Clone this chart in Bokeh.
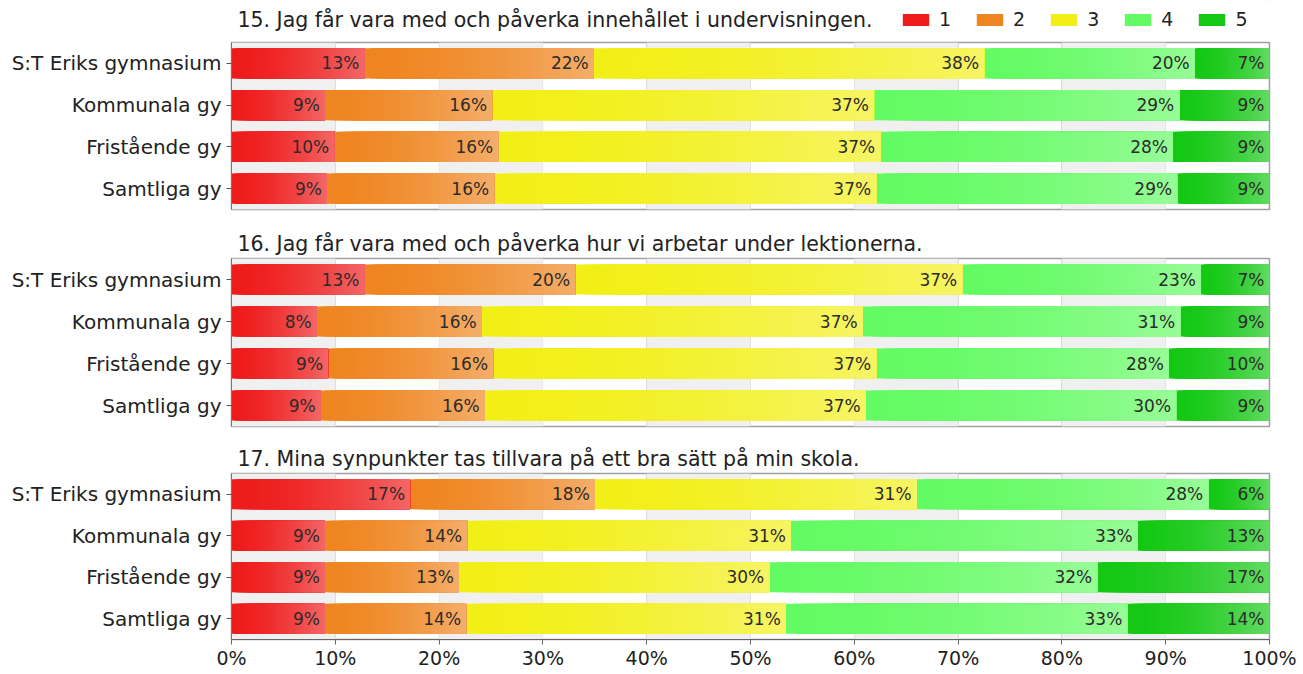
from bokeh.plotting import figure
from bokeh.layouts import column
from bokeh.models import (ColumnDataSource, Legend, LegendItem, FixedTicker,
                          Range1d, FactorRange, Label, BoxAnnotation)
from bokeh.core.properties import value
from bokeh.embed import file_html
from bokeh.resources import INLINE

# ---------------- data ----------------
categories = ["S:T Eriks gymnasium", "Kommunala gy", "Fristående gy", "Samtliga gy"]
answers = ["1", "2", "3", "4", "5"]
colors = ["#ee1b1b", "#ef8520", "#f2ef17", "#63fb63", "#14c814"]
x_ticks = [0, 10, 20, 30, 40, 50, 60, 70, 80, 90, 100]
x_tick_labels = ["0%", "10%", "20%", "30%", "40%", "50%", "60%", "70%", "80%", "90%", "100%"]

q15_title = "15. Jag får vara med och påverka innehållet i undervisningen."
q15_st = [12.8, 22.1, 37.6, 20.3, 7.2]
q15_kom = [9.0, 16.1, 36.8, 29.4, 8.7]
q15_fri = [9.9, 15.8, 36.8, 28.2, 9.3]
q15_sam = [9.2, 16.1, 36.8, 29.0, 8.9]

q16_title = "16. Jag får vara med och påverka hur vi arbetar under lektionerna."
q16_st = [12.8, 20.3, 37.3, 23.0, 6.6]
q16_kom = [8.2, 15.9, 36.7, 30.6, 8.6]
q16_fri = [9.3, 15.9, 36.9, 28.2, 9.7]
q16_sam = [8.6, 15.8, 36.7, 29.9, 9.0]

q17_title = "17. Mina synpunkter tas tillvara på ett bra sätt på min skola."
q17_st = [17.2, 17.8, 31.0, 28.1, 5.9]
q17_kom = [9.0, 13.7, 31.2, 33.4, 12.7]
q17_fri = [9.0, 12.9, 29.9, 31.6, 16.6]
q17_sam = [9.0, 13.6, 30.8, 32.9, 13.7]

FONT = "DejaVu Sans"
TITLE_SIZE = "20.5px"
BAR_H = 0.72
N_SLICES = 40
W = 1302
LEFT = 231
RIGHT = 33


def mix(hexc, t):
    r, g, b = int(hexc[1:3], 16), int(hexc[3:5], 16), int(hexc[5:7], 16)
    return "#%02x%02x%02x" % (round(r + (255 - r) * t), round(g + (255 - g) * t),
                              round(b + (255 - b) * t))


def make_panel(title, rows, top, frame_h, bottom, show_x):
    height = top + frame_h + bottom
    p = figure(width=W, height=height, output_backend="svg", toolbar_location=None,
               y_range=FactorRange(*reversed(categories)), x_range=Range1d(0, 100),
               min_border_left=LEFT, min_border_right=RIGHT, min_border_top=top,
               min_border_bottom=bottom, title=title)
    if p.title is not None:
        p.title.text_font = FONT
        p.title.text_font_size = TITLE_SIZE
        p.title.text_font_style = "normal"
        p.title.text_color = "#222222"
        p.title.align = "left"
        p.title.offset = 6
        p.title.standoff = 6

    p.outline_line_color = "#9f9f9f"
    p.outline_line_width = 1.5
    p.background_fill_color = "white"
    p.border_fill_color = "white"

    # alternating background bands: grey between every other pair of ticks
    for lo, hi in zip(x_ticks[0:-1:2], x_ticks[1::2]):
        p.add_layout(BoxAnnotation(left=lo, right=hi, fill_color="#f0f0f0", fill_alpha=1.0,
                                   line_color="#d9d9d9", line_width=1, level="underlay"))

    p.xgrid.ticker = FixedTicker(ticks=x_ticks)
    p.xgrid.grid_line_color = "#d9d9d9"
    p.ygrid.visible = False

    p.xaxis.ticker = FixedTicker(ticks=x_ticks)
    p.xaxis.major_label_overrides = {t: l for t, l in zip(x_ticks, x_tick_labels)}
    p.xaxis.minor_tick_line_color = None
    p.xaxis.major_tick_in = 0
    p.xaxis.major_tick_out = 5
    p.xaxis.major_label_standoff = 2
    p.xaxis.axis_line_color = "#666666"
    p.xaxis.major_tick_line_color = "#666666"
    p.xaxis.major_label_text_font = FONT
    p.xaxis.major_label_text_font_size = "19px"
    p.xaxis.major_label_text_color = "#222222"
    p.xaxis.visible = show_x

    p.yaxis.major_tick_in = 0
    p.yaxis.major_tick_out = 5
    p.yaxis.major_label_standoff = 5
    p.yaxis.axis_line_color = "#777777"
    p.yaxis.major_tick_line_color = "#555555"
    p.yaxis.major_label_text_font = FONT
    p.yaxis.major_label_text_font_size = "20px"
    p.yaxis.major_label_text_color = "#222222"

    sl_y, sl_l, sl_r, sl_c = [], [], [], []
    lab_x, lab_y, lab_t = [], [], []
    for j, ans in enumerate(answers):
        ys, ls, rs = [], [], []
        for cat, vals in zip(categories, rows):
            left = sum(vals[:j])
            right = left + vals[j]
            ys.append(cat)
            ls.append(left)
            rs.append(right)
            lab_x.append(right)
            lab_y.append(cat)
            lab_t.append("%d%%" % round(vals[j]))
            w = right - left
            for i in range(1, N_SLICES):
                t = 0.34 * (i / N_SLICES) ** 1.6
                sl_y.append(cat)
                sl_l.append(left + w * i / N_SLICES)
                sl_r.append(right)
                sl_c.append(mix(colors[j], t))
        p.hbar(y=ys, left=ls, right=rs, height=BAR_H, fill_color=colors[j],
               line_color=None)

    p.hbar(y="y", left="l", right="r", height=BAR_H, fill_color="c", line_color=None,
           source=ColumnDataSource(dict(y=sl_y, l=sl_l, r=sl_r, c=sl_c)))

    p.text(x="x", y="y", text="t", x_offset=-5, text_align="right",
           text_baseline="middle", text_font=value(FONT), text_font_size="17px",
           text_color="#2b2b2b",
           source=ColumnDataSource(dict(x=lab_x, y=lab_y, t=lab_t)))
    return p


# header row: first question title + legend (frame aligned with the panels)
HEADER_H = 40
p0 = figure(width=W, height=HEADER_H, output_backend="svg", toolbar_location=None,
            x_range=Range1d(0, 1), y_range=Range1d(0, 1),
            x_axis_location=None, y_axis_location=None,
            min_border_left=LEFT, min_border_right=RIGHT,
            min_border_top=0, min_border_bottom=0)
p0.outline_line_color = None
p0.grid.visible = False
p0.background_fill_color = "white"
p0.border_fill_color = "white"
p0.add_layout(Label(x=6, y=21, x_units="screen", y_units="screen", text=q15_title,
                    text_font=FONT, text_font_size=TITLE_SIZE, text_color="#222222",
                    text_baseline="alphabetic"))
# legend proxies (kept outside the visible range)
dummies = [p0.hbar(y=[5], left=[5], right=[6], height=0.5, fill_color=c, line_color=None)
           for c in colors]
lg = Legend(items=[LegendItem(label=a, renderers=[r]) for a, r in zip(answers, dummies)],
            orientation="horizontal", location=(668, 10),
            background_fill_alpha=0, border_line_color=None,
            glyph_width=33, glyph_height=15, label_text_font=FONT,
            label_text_font_size="19px", label_text_color="#222222",
            label_standoff=7, spacing=22, padding=0, margin=0,
            label_height=15, label_width=12)
p0.add_layout(lg)

p1 = make_panel(None, [q15_st, q15_kom, q15_fri, q15_sam], 2, 167, 5, False)
p2 = make_panel(q16_title, [q16_st, q16_kom, q16_fri, q16_sam], 44, 168, 5, False)
p3 = make_panel(q17_title, [q17_st, q17_kom, q17_fri, q17_sam], 42, 166, 35, True)

layout = column(p0, p1, p2, p3, spacing=0)
open("out.html", "w").write(file_html(layout, INLINE))
